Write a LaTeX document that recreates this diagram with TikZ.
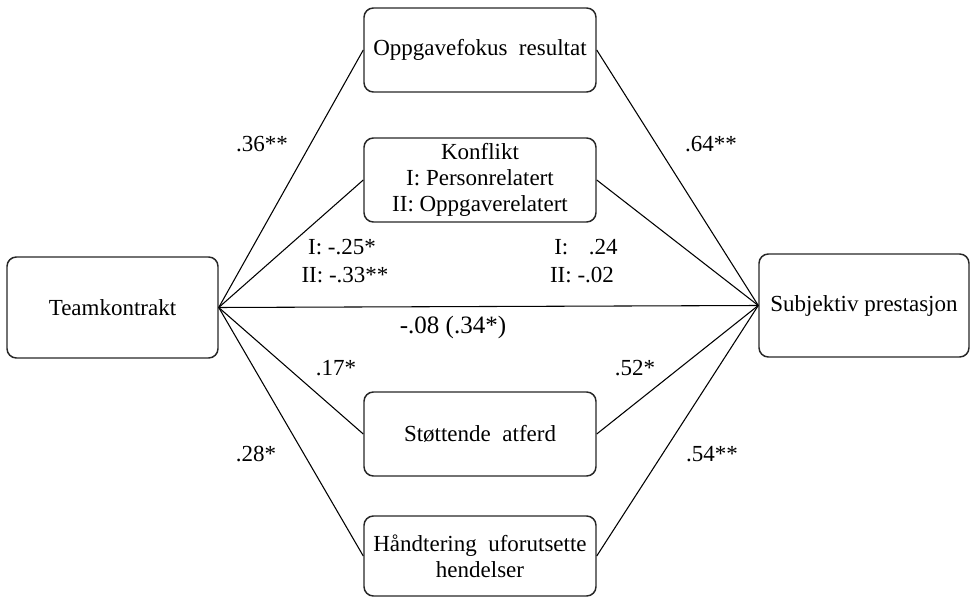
\documentclass[tikz,border=0pt]{standalone}
\usepackage{fontspec}
\setmainfont{Liberation Serif}
\begin{document}
\begin{tikzpicture}[x=0.75pt,y=-0.75pt,
  box/.style={draw=black!85, line width=1.1pt, rounded corners=7pt, inner sep=0pt,
    align=center, font=\fontsize{17.25}{19.5}\selectfont},
  link/.style={draw=black, line width=0.8pt},
  coef/.style={anchor=base, inner sep=0pt, font=\fontsize{17.25}{19.5}\selectfont}]
\useasboundingbox (0,0) rectangle (971,598);

% predictor, outcome and mediators
\node[box, minimum width=158.25pt, minimum height=75.75pt] (team) at (112.5,307.5) {Teamkontrakt};
\node[box, minimum width=157.5pt, minimum height=77.25pt] (subj) at (864,305.5) {Subjektiv prestasjon};
\node[box, minimum width=174pt, minimum height=63pt] (fokus) at (480,50) {Oppgavefokus\ \ resultat};
\node[box, minimum width=174pt, minimum height=63pt] (konf) at (480,180) {Konflikt\\I: Personrelatert\\II: Oppgaverelatert};
\node[box, minimum width=174pt, minimum height=63pt] (stott) at (480,434) {St\o ttende\ \ atferd};
\node[box, minimum width=174pt, minimum height=60pt] (hand) at (480,556) {H\aa ndtering\ \ uforutsette\\hendelser};

% paths
\foreach \m in {fokus,konf,stott,hand}{
  \draw[link] (team.east) -- (\m.west);
  \draw[link] (\m.east) -- (subj.west);
}
\draw[link] (team.east) -- (subj.west);

% path coefficients
\node[coef] (c1) at (262,152) {.36**};
\node[coef] (c2) at (711,152) {.64**};
\node[coef] (c3) at (342,255) {I: -.25*};
\node[coef] (c4) at (345,283) {II: -.33**};
\node[coef] (c5) at (586,255) {I:\hspace{0.9em}.24};
\node[coef] (c6) at (582,283) {II: -.02};
\node[coef, font=\fontsize{18.75}{21}\selectfont] (c7) at (453,334) {-.08 (.34*)};
\node[coef] (c8) at (336,376) {.17*};
\node[coef] (c9) at (635,376) {.52*};
\node[coef] (c10) at (256,461) {.28*};
\node[coef] (c11) at (712,461) {.54**};
\end{tikzpicture}
\end{document}
